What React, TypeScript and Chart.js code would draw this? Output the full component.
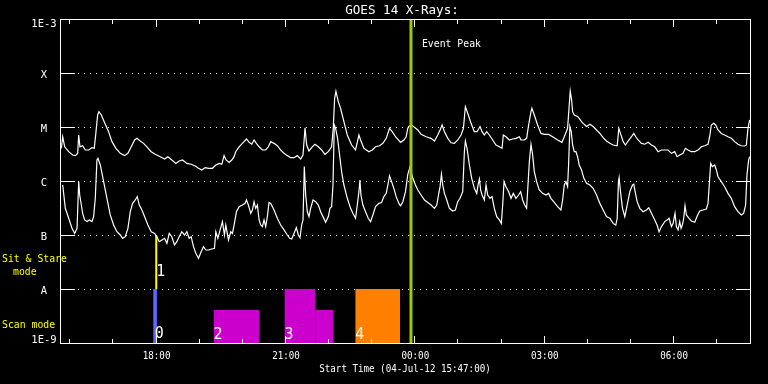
import { useEffect, useRef } from "react";
import { Chart, registerables } from "chart.js";

Chart.register(...registerables);

// ---------- DATA ----------
const TITLE = "GOES 14 X-Rays:";
const X_AXIS_TITLE = "Start Time (04-Jul-12 15:47:00)";
const X_MIN_MINUTES = 0; // 15:47 on 04-Jul-12
const X_MAX_MINUTES = 960; // 07:47 on 05-Jul-12

// GOES long channel (1-8 A), [minutes since 15:47, flux W/m^2]
const longChannel: [number, number][] = [
  [1.9, 4.03e-6], [3.75, 6.6e-6], [6.5, 4.3e-6], [12.1, 3.49e-6], [17.6, 3.03e-6], [21.3, 2.95e-6],
  [24.6, 3.25e-6], [26.0, 7.11e-6], [27.8, 4.3e-6], [31.5, 4.5e-6], [35.2, 3.75e-6], [39.9, 3.75e-6],
  [44.5, 4.15e-6], [47.7, 4.03e-6], [50.1, 8.19e-6], [52.4, 1.67e-5], [54.2, 1.92e-5], [57.5, 1.67e-5],
  [63.0, 1.12e-5], [67.6, 8.19e-6], [72.3, 5.35e-6], [77.8, 4.03e-6], [83.9, 3.25e-6], [89.9, 2.95e-6],
  [94.5, 3.25e-6], [99.1, 4.3e-6], [103.8, 5.75e-6], [107.0, 6.17e-6], [111.6, 5.5e-6], [116.3, 4.98e-6],
  [120.9, 4.3e-6], [126.9, 3.49e-6], [132.5, 3.12e-6], [139.4, 2.82e-6], [145.5, 2.56e-6], [150.1, 2.82e-6],
  [155.6, 2.45e-6], [161.2, 2.12e-6], [165.8, 2.35e-6], [170.5, 2.45e-6], [176.5, 2.12e-6], [182.5, 2.04e-6],
  [188.1, 1.9e-6], [192.7, 1.72e-6], [197.3, 1.6e-6], [202.0, 1.77e-6], [206.6, 1.72e-6], [212.1, 1.72e-6],
  [216.8, 1.98e-6], [221.4, 2.12e-6], [225.1, 2.04e-6], [228.3, 2.95e-6], [231.1, 2.45e-6], [235.3, 2.2e-6],
  [239.0, 2.45e-6], [242.2, 2.82e-6],
  [244.5, 3.49e-6], [249.2, 4.3e-6], [253.8, 4.98e-6], [259.4, 6.0e-6], [263.1, 5.2e-6], [266.8, 4.8e-6],
  [270.0, 5.75e-6], [273.2, 4.98e-6], [277.0, 4.3e-6], [281.6, 3.75e-6], [286.2, 3.75e-6], [289.9, 4.3e-6],
  [293.2, 5.35e-6], [297.8, 4.98e-6], [302.4, 4.5e-6], [307.0, 3.75e-6], [311.7, 3.25e-6], [316.3, 2.95e-6],
  [320.9, 2.7e-6], [325.6, 2.7e-6], [330.2, 2.95e-6], [334.8, 2.56e-6], [338.1, 3.03e-6], [340.9, 9.7e-6],
  [343.2, 4.64e-6], [346.4, 3.6e-6], [351.0, 4.3e-6], [354.7, 4.8e-6], [359.4, 4.3e-6], [364.0, 3.75e-6],
  [368.6, 3.12e-6], [373.3, 3.49e-6], [377.9, 4.3e-6], [380.2, 9.45e-6], [382.1, 3.4e-5], [383.9, 4.6e-5],
  [387.2, 2.94e-5], [390.4, 2.22e-5], [395.0, 1.26e-5], [399.7, 7.11e-6], [405.7, 4.64e-6], [411.2, 3.75e-6],
  [415.9, 7.11e-6], [418.2, 5.75e-6], [422.8, 4.03e-6], [429.8, 3.49e-6], [434.4, 3.75e-6], [439.0, 4.3e-6],
  [444.6, 4.5e-6], [449.2, 4.98e-6], [453.9, 6.17e-6], [458.5, 9.45e-6], [462.2, 8.19e-6], [466.8, 6.6e-6],
  [473.8, 5.2e-6], [478.4, 5.75e-6], [481.6, 6.6e-6], [483.9, 9.45e-6],
  [485.3, 1.02e-5], [488.5, 1.09e-5], [491.8, 1.02e-5], [497.8, 8.8e-6], [502.4, 7.3e-6], [509.4, 6.6e-6],
  [516.3, 6.17e-6], [521.0, 5.5e-6], [525.6, 7.11e-6], [528.8, 8.8e-6], [531.6, 1.09e-5], [534.9, 8.19e-6],
  [539.5, 6.17e-6], [544.1, 5.1e-6], [548.7, 4.98e-6], [553.4, 5.75e-6], [558.0, 7.11e-6], [561.3, 9.45e-6],
  [564.0, 2.38e-5], [567.3, 1.8e-5], [571.9, 1.17e-5], [576.5, 8.19e-6], [580.2, 8.19e-6], [584.4, 1.02e-5],
  [587.2, 8.19e-6], [590.4, 7.11e-6], [593.7, 8.19e-6], [597.4, 7.11e-6], [602.0, 5.75e-6], [606.6, 4.64e-6],
  [611.3, 4.3e-6], [615.0, 4.03e-6], [616.8, 7.11e-6], [620.5, 6.6e-6], [625.2, 5.75e-6], [629.8, 6.0e-6],
  [634.4, 6.17e-6], [639.1, 6.6e-6], [641.4, 5.75e-6], [646.0, 5.75e-6], [649.2, 6.17e-6], [652.0, 1.09e-5],
  [655.3, 1.92e-5], [656.6, 2.22e-5], [659.9, 1.67e-5], [664.5, 1.09e-5], [669.2, 7.6e-6], [673.8, 7.3e-6],
  [679.8, 7.3e-6], [685.4, 6.6e-6], [692.3, 5.75e-6], [698.3, 5.2e-6], [701.6, 6.6e-6], [706.2, 9.45e-6],
  [708.5, 2.55e-5], [709.9, 4.6e-5], [711.8, 3.17e-5], [713.2, 1.92e-5], [715.5, 1.67e-5], [720.1, 1.56e-5],
  [722.4, 1.45e-5], [725.6, 1.26e-5],
  [727.9, 1.17e-5], [732.6, 1.02e-5], [737.2, 1.12e-5], [741.8, 1.02e-5], [746.5, 8.8e-6], [751.1, 7.6e-6],
  [755.7, 6.35e-6], [760.3, 5.5e-6], [765.0, 4.98e-6], [769.6, 4.64e-6], [775.2, 4.5e-6], [777.5, 9.45e-6],
  [779.8, 7.6e-6], [783.5, 5.35e-6], [786.7, 4.64e-6], [790.4, 5.5e-6], [795.1, 6.6e-6], [798.3, 7.6e-6],
  [801.1, 6.6e-6], [804.3, 5.75e-6], [809.0, 4.98e-6], [813.6, 4.8e-6], [818.2, 5.2e-6], [822.9, 4.64e-6],
  [827.5, 4.3e-6], [832.1, 3.49e-6], [836.8, 3.75e-6], [841.4, 3.75e-6], [846.0, 3.75e-6], [850.7, 3.25e-6],
  [855.3, 3.49e-6], [858.5, 2.82e-6], [862.2, 3.03e-6], [866.9, 3.25e-6], [870.1, 4.03e-6], [873.8, 3.75e-6],
  [878.4, 3.49e-6], [883.1, 3.49e-6], [887.7, 3.75e-6], [892.3, 4.3e-6], [897.0, 4.5e-6], [901.6, 4.8e-6],
  [903.9, 6.6e-6], [906.2, 1.09e-5], [909.5, 1.17e-5], [912.2, 1.09e-5], [915.5, 8.8e-6], [920.1, 7.6e-6],
  [924.7, 7.11e-6], [929.4, 6.6e-6], [934.0, 6.17e-6], [938.6, 5.35e-6], [943.3, 4.8e-6], [947.9, 4.5e-6],
  [952.5, 4.45e-6], [954.9, 4.64e-6], [957.2, 9.45e-6], [959.5, 1.35e-5],
];

// GOES short channel (0.5-4 A), [minutes since 15:47, flux W/m^2]
const shortChannel: [number, number][] = [
  [3.75, 8.43e-7], [7.4, 3.12e-7], [12.1, 2.04e-7], [16.7, 1.33e-7], [20.4, 1.07e-7], [23.7, 1.33e-7],
  [26.0, 9.72e-7], [27.4, 5.5e-7], [29.7, 3.59e-7], [31.5, 2.52e-7], [34.3, 1.9e-7], [37.6, 1.77e-7],
  [40.8, 1.9e-7], [44.5, 1.77e-7], [46.8, 2.19e-7], [49.1, 4.78e-7], [51.4, 2.45e-6], [52.8, 2.63e-6],
  [56.1, 1.98e-6], [60.7, 9.72e-7], [65.3, 4.78e-7], [69.9, 2.35e-7], [74.6, 1.53e-7], [79.2, 1.15e-7],
  [83.9, 1.0e-7], [87.1, 8.68e-8], [90.8, 9.3e-8], [94.5, 1.33e-7], [97.8, 2.7e-7], [101.0, 3.85e-7],
  [104.7, 4.45e-7], [107.5, 5.13e-7], [110.3, 3.59e-7], [114.0, 2.9e-7], [118.6, 2.04e-7], [122.3, 1.53e-7],
  [126.9, 1.15e-7], [131.6, 1.07e-7], [134.8, 9.3e-8], [138.0, 7.52e-8], [141.8, 8.1e-8], [145.5, 8.68e-8],
  [148.7, 7.0e-8], [152.0, 1.07e-7], [155.6, 9.3e-8], [159.3, 6.53e-8], [162.6, 7.52e-8], [165.8, 9.3e-8],
  [169.5, 1.15e-7], [173.2, 1.0e-7], [176.5, 1.15e-7], [179.7, 8.68e-8], [182.5, 9.3e-8], [185.7, 6.08e-8],
  [189.0, 4.58e-8], [192.7, 3.7e-8], [196.4, 4.91e-8], [199.6, 6.08e-8], [202.9, 5.27e-8], [206.6, 5.27e-8],
  [211.2, 5.5e-8], [214.9, 5.66e-8], [216.8, 1.15e-7], [219.6, 8.68e-8], [222.8, 1.24e-7], [226.0, 1.77e-7],
  [228.8, 1.0e-7], [230.7, 1.53e-7], [234.4, 8.1e-8], [237.6, 1.15e-7], [239.9, 1.07e-7], [242.2, 1.53e-7],
  [245.5, 2.7e-7], [249.2, 3.35e-7], [253.8, 3.59e-7], [257.5, 3.85e-7], [259.4, 4.45e-7], [262.1, 3.59e-7],
  [265.4, 2.52e-7], [267.7, 2.9e-7], [270.0, 4.14e-7], [272.3, 3.12e-7], [274.6, 3.59e-7], [277.0, 1.9e-7],
  [279.3, 1.53e-7], [281.6, 1.43e-7], [283.9, 1.9e-7], [286.2, 1.43e-7], [288.5, 2.19e-7], [290.8, 4.0e-7],
  [293.2, 3.85e-7], [297.8, 2.9e-7], [302.4, 2.04e-7], [307.0, 1.53e-7], [311.7, 1.24e-7], [316.3, 1.0e-7],
  [319.6, 8.68e-8], [322.3, 8.4e-8], [325.6, 1.07e-7], [328.8, 1.37e-7], [331.6, 1.0e-7], [333.9, 8.9e-8],
  [336.2, 1.53e-7], [338.1, 1.9e-7], [339.9, 1.85e-6], [341.8, 5.5e-7], [344.1, 2.7e-7], [346.4, 2.19e-7],
  [348.7, 3.12e-7], [352.0, 4.45e-7], [355.7, 4.14e-7], [359.4, 3.59e-7], [362.6, 2.7e-7], [365.9, 2.19e-7],
  [369.6, 1.72e-7], [373.3, 2.19e-7], [375.6, 3.12e-7], [377.9, 3.35e-7], [379.8, 8.43e-7], [381.6, 1.09e-5],
  [383.5, 9.45e-6], [386.2, 6.17e-6], [389.0, 3.03e-6], [391.8, 1.49e-6], [395.0, 8.43e-7], [399.7, 4.78e-7],
  [404.3, 3.12e-7], [407.5, 2.52e-7], [411.2, 2.04e-7], [413.6, 3.59e-7], [415.9, 6.34e-7], [417.3, 1.04e-6],
  [418.7, 5.5e-7], [421.4, 3.59e-7], [425.1, 2.7e-7], [428.8, 2.04e-7], [432.1, 1.77e-7], [435.3, 2.35e-7],
  [439.0, 3.35e-7], [443.7, 3.85e-7], [447.4, 4.0e-7], [450.6, 5.13e-7], [453.9, 5.9e-7], [456.6, 9.05e-7],
  [458.5, 1.25e-6], [461.3, 9.72e-7], [464.5, 7.31e-7], [467.7, 5.13e-7], [471.5, 3.85e-7], [473.8, 3.48e-7],
  [477.0, 4.14e-7], [480.7, 6.34e-7], [483.9, 1.33e-6],
  [487.2, 1.85e-6], [488.5, 1.49e-6], [490.9, 1.12e-6], [494.6, 8.43e-7], [497.8, 6.8e-7], [502.4, 5.5e-7],
  [507.1, 4.45e-7], [511.7, 4.0e-7], [516.3, 3.59e-7], [521.0, 3.12e-7], [524.2, 3.59e-7], [527.0, 5.9e-7],
  [528.8, 7.85e-7], [530.7, 1.33e-6], [532.5, 8.43e-7], [534.9, 5.9e-7], [538.1, 4.45e-7], [541.8, 3.12e-7],
  [546.4, 2.78e-7], [550.1, 2.9e-7], [553.4, 4.14e-7], [556.6, 4.78e-7], [560.3, 6.34e-7], [562.6, 3.49e-6],
  [564.0, 5.5e-6], [566.3, 4.03e-6], [569.6, 1.98e-6], [572.8, 1.12e-6], [576.5, 7.31e-7], [579.8, 5.9e-7],
  [581.6, 8.43e-7], [583.5, 1.09e-6], [585.3, 6.8e-7], [587.2, 5.5e-7], [590.4, 4.45e-7], [592.7, 8.43e-7],
  [595.1, 5.5e-7], [598.3, 4.78e-7], [601.1, 5.13e-7], [604.3, 3.12e-7], [607.6, 2.19e-7], [611.3, 1.9e-7],
  [614.0, 1.64e-7], [615.9, 3.59e-7], [617.8, 9.72e-7], [620.5, 7.85e-7], [624.2, 6.34e-7], [627.5, 4.78e-7],
  [630.7, 5.9e-7], [634.4, 4.78e-7], [638.1, 5.5e-7], [640.9, 6.34e-7], [643.7, 4.45e-7], [646.5, 3.59e-7],
  [649.2, 3.12e-7], [651.1, 8.43e-7], [653.0, 2.28e-6], [655.3, 4.78e-6], [657.6, 3.03e-6], [659.9, 1.49e-6],
  [663.1, 9.72e-7], [666.8, 6.8e-7], [671.5, 5.9e-7], [676.1, 5.5e-7], [679.8, 5.9e-7], [683.0, 4.78e-7],
  [687.7, 4.0e-7], [692.3, 3.35e-7], [696.9, 2.9e-7], [699.3, 4.45e-7], [701.6, 8.43e-7], [703.9, 9.72e-7],
  [706.2, 7.85e-7], [707.6, 1.98e-6], [709.4, 1.02e-5], [711.3, 8.19e-6], [713.2, 4.64e-6], [715.5, 3.49e-6],
  [717.8, 3.49e-6], [720.1, 2.82e-6], [722.4, 1.98e-6], [725.6, 1.6e-6],
  [728.9, 1.12e-6], [732.6, 9.05e-7], [737.2, 8.43e-7], [741.8, 7.31e-7], [746.5, 5.5e-7], [751.1, 3.85e-7],
  [755.7, 2.9e-7], [760.3, 2.19e-7], [765.0, 2.04e-7], [769.6, 1.64e-7], [773.3, 1.53e-7], [775.2, 2.04e-7],
  [777.0, 9.72e-7], [777.9, 1.15e-6], [779.8, 6.34e-7], [782.6, 3.12e-7], [785.8, 2.19e-7], [789.1, 3.59e-7],
  [792.8, 6.34e-7], [796.5, 8.43e-7], [798.3, 8.7e-7], [800.2, 6.34e-7], [803.0, 4.14e-7], [806.7, 3.12e-7],
  [811.3, 2.7e-7], [815.9, 2.9e-7], [819.2, 3.2e-7], [822.9, 2.52e-7], [827.5, 1.9e-7], [830.7, 1.53e-7],
  [833.5, 1.15e-7], [836.8, 1.43e-7], [841.4, 1.77e-7], [844.6, 1.9e-7], [847.4, 2.04e-7], [850.7, 1.43e-7],
  [853.0, 1.64e-7], [855.7, 2.52e-7], [857.6, 1.43e-7], [859.9, 1.24e-7], [862.2, 1.77e-7], [864.1, 1.33e-7],
  [865.9, 1.53e-7], [867.8, 2.04e-7], [869.6, 3.5e-7], [871.5, 2.35e-7], [875.2, 2.04e-7], [878.4, 1.82e-7],
  [883.1, 1.72e-7], [886.3, 2.19e-7], [890.0, 2.78e-7], [894.6, 2.9e-7], [899.3, 3.03e-7], [901.6, 3.85e-7],
  [903.9, 1.12e-6], [905.3, 2.12e-6], [907.6, 1.85e-6], [910.9, 1.98e-6], [913.2, 1.6e-6], [915.5, 1.2e-6],
  [920.1, 9.72e-7], [924.7, 7.85e-7], [929.4, 5.9e-7], [934.0, 4.78e-7], [938.6, 3.35e-7], [943.3, 2.7e-7],
  [947.9, 2.35e-7], [951.1, 2.52e-7], [953.9, 3.59e-7], [955.8, 1.29e-6], [958.1, 2.45e-6], [959.5, 2.82e-6],
];

// Y axis: decade ticks and their GOES class labels
const yTickValues = [1e-9, 1e-8, 1e-7, 1e-6, 1e-5, 1e-4, 1e-3];
const yTickLabels = ["1E-9", "A", "B", "C", "M", "X", "1E-3"];
const yGridValues = [1e-8, 1e-7, 1e-6, 1e-5, 1e-4];

// X axis: hourly ticks (16:00 ... 07:00) and labelled 3-hour ticks
const hourTickMinutes = [13, 73, 133, 193, 253, 313, 373, 433, 493, 553, 613, 673, 733, 793, 853, 913];
const labelTickMinutes = [133, 313, 493, 673, 853];
const labelTickTexts = ["18:00", "21:00", "00:00", "03:00", "06:00"];

// Observing modes
const scanModeZeroMinute = 132.3; // scan 0 at 18:00
const sitStareMinute = 133.9; // sit & stare 1
const scanSegStart = [213.5, 312.2, 355.2, 410.8];
const scanSegEnd = [277.4, 355.2, 380.2, 473.3];
const scanSegTop = [4.1e-9, 1e-8, 4.1e-9, 1e-8];
const modeLabelTexts = ["0", "1", "2", "3", "4"];
const modeLabelMinutes = [131.8, 133.9, 213.5, 312.2, 410.8];
const eventPeakMinute = 488.3;
const EVENT_PEAK_TEXT = "Event Peak";

// ---------- STYLE ----------
const FONT = '"DejaVu Sans Mono", "Liberation Mono", monospace';
const WHITE = "#ffffff";
const YELLOW = "#ffff00";
const SCAN_COLORS = ["#cc00cc", "#cc00cc", "#cc00cc", "#ff8000"];
const SCAN0_COLOR = "#6464ff";
const PEAK_COLOR = "#9ccc00";
const MODE_LABEL_DY = [-5, -13, -4, -4, -4];

function drawText(
  ctx: CanvasRenderingContext2D,
  text: string,
  x: number,
  y: number,
  size: number,
  color: string,
  align: CanvasTextAlign = "left",
  sy = 1.0
) {
  ctx.save();
  ctx.font = `${size}px ${FONT}`;
  ctx.fillStyle = color;
  ctx.textAlign = align;
  ctx.textBaseline = "alphabetic";
  ctx.translate(x, y);
  ctx.scale(1, sy);
  ctx.fillText(text, 0, 0);
  ctx.restore();
}

const framePlugin = {
  id: "goesFrame",
  beforeDraw(chart: any) {
    const ctx = chart.ctx as CanvasRenderingContext2D;
    ctx.save();
    ctx.fillStyle = "#000000";
    ctx.fillRect(0, 0, chart.width, chart.height);
    ctx.restore();
  },
  beforeDatasetsDraw(chart: any) {
    const ctx = chart.ctx as CanvasRenderingContext2D;
    const { left, right } = chart.chartArea;
    const ys = chart.scales.y;
    ctx.save();
    ctx.fillStyle = WHITE;
    for (const v of yGridValues) {
      const py = Math.round(ys.getPixelForValue(v));
      for (let x = left + 18; x < right - 15; x += 6) ctx.fillRect(x, py, 1, 1);
    }
    ctx.restore();
  },
  afterDatasetsDraw(chart: any) {
    const ctx = chart.ctx as CanvasRenderingContext2D;
    const { left, right, top, bottom } = chart.chartArea;
    const xs = chart.scales.x;
    const ys = chart.scales.y;
    ctx.save();
    ctx.strokeStyle = WHITE;
    ctx.lineWidth = 1;
    ctx.beginPath();
    ctx.rect(left + 0.5, top + 0.5, right - left, bottom - top);
    // y decade ticks, inside, both sides
    for (const v of yTickValues) {
      const py = Math.round(ys.getPixelForValue(v)) + 0.5;
      ctx.moveTo(left, py);
      ctx.lineTo(left + 15, py);
      ctx.moveTo(right - 14, py);
      ctx.lineTo(right + 1, py);
    }
    // x hourly ticks, inside, top and bottom
    for (const m of hourTickMinutes) {
      const px = Math.round(xs.getPixelForValue(m)) + 0.5;
      const len = labelTickMinutes.includes(m) ? 7 : 4;
      ctx.moveTo(px, bottom);
      ctx.lineTo(px, bottom - len);
      ctx.moveTo(px, top + 1);
      ctx.lineTo(px, top + 1 + len);
    }
    ctx.stroke();
    ctx.restore();

    // y tick labels
    yTickValues.forEach((v, i) => {
      const py = ys.getPixelForValue(v);
      const base = Math.min(Math.max(py + 4.5, top + 8), bottom);
      drawText(ctx, yTickLabels[i], 44, base, 10.5, WHITE, "center");
    });
    // x tick labels
    labelTickMinutes.forEach((m, i) => {
      const px = xs.getPixelForValue(m);
      drawText(ctx, labelTickTexts[i], px + 1, bottom + 16, 9.2, WHITE, "center", 1.17);
    });
    const cx = (left + right) / 2;
    drawText(ctx, X_AXIS_TITLE, cx, bottom + 29, 9.2, WHITE, "center", 1.17);
    drawText(ctx, TITLE, cx - 3, 14, 12.6, WHITE, "center", 1.0);

    // event peak label
    const peakX = xs.getPixelForValue(eventPeakMinute);
    drawText(ctx, EVENT_PEAK_TEXT, peakX + 11, 46.5, 9.8, WHITE, "left", 1.16);

    // mode labels on the left
    drawText(ctx, "Sit & Stare", 2, 262, 9.8, YELLOW, "left", 1.14);
    drawText(ctx, "mode", 13, 274.5, 9.8, YELLOW, "left", 1.14);
    drawText(ctx, "Scan mode", 2, 327.5, 9.8, YELLOW, "left", 1.14);

    // mode numbers
    modeLabelTexts.forEach((t, i) => {
      const px = xs.getPixelForValue(modeLabelMinutes[i]);
      const py = i === 1 ? ys.getPixelForValue(1e-8) : bottom;
      drawText(ctx, t, px, py + MODE_LABEL_DY[i], 15, WHITE, "left", 1.08);
    });
  },
};

export default function App() {
  const ref = useRef<HTMLCanvasElement>(null);

  useEffect(() => {
    document.body.style.margin = "0";
    document.body.style.background = "#000";
    const canvas = ref.current;
    if (!canvas) return;

    const lineStyle = { pointRadius: 0, tension: 0, fill: false };

    const datasets: any[] = [
      {
        label: "Event Peak",
        data: [
          { x: eventPeakMinute, y: 1e-9 },
          { x: eventPeakMinute, y: 1e-3 },
        ],
        borderColor: PEAK_COLOR,
        borderWidth: 3,
        order: 0,
        ...lineStyle,
      },
      {
        label: "Long",
        data: longChannel.map(([x, y]) => ({ x, y })),
        borderColor: WHITE,
        borderWidth: 1.2,
        order: 1,
        ...lineStyle,
      },
      {
        label: "Short",
        data: shortChannel.map(([x, y]) => ({ x, y })),
        borderColor: WHITE,
        borderWidth: 1.2,
        order: 1,
        ...lineStyle,
      },
      {
        label: "Scan 0",
        data: [
          { x: scanModeZeroMinute, y: 1e-9 },
          { x: scanModeZeroMinute, y: 1e-8 },
        ],
        borderColor: SCAN0_COLOR,
        borderWidth: 3.6,
        order: 2,
        ...lineStyle,
      },
      {
        label: "Sit & Stare 1",
        data: [
          { x: sitStareMinute, y: 1e-8 },
          { x: sitStareMinute, y: 1e-7 },
        ],
        borderColor: YELLOW,
        borderWidth: 2,
        order: 2,
        ...lineStyle,
      },
      ...scanSegStart.map((s, i) => ({
        label: `Scan segment ${i}`,
        data: [
          { x: s, y: scanSegTop[i] },
          { x: scanSegEnd[i], y: scanSegTop[i] },
        ],
        borderWidth: 0,
        borderColor: SCAN_COLORS[i],
        backgroundColor: SCAN_COLORS[i],
        fill: "start",
        pointRadius: 0,
        tension: 0,
        order: 3,
      })),
    ];

    const chart = new Chart(canvas, {
      type: "line",
      data: { datasets },
      options: {
        responsive: false,
        animation: false,
        devicePixelRatio: 1,
        layout: { padding: { left: 60, top: 19, right: 18, bottom: 41 } },
        scales: {
          x: { type: "linear", min: X_MIN_MINUTES, max: X_MAX_MINUTES, display: false },
          y: { type: "logarithmic", min: 1e-9, max: 1e-3, display: false },
        },
        plugins: {
          legend: { display: false },
          tooltip: { enabled: false },
          title: { display: false },
        },
        events: [],
      },
      plugins: [framePlugin],
    });

    return () => chart.destroy();
  }, []);

  return (
    <canvas
      ref={ref}
      width={768}
      height={384}
      style={{ display: "block", width: 768, height: 384, position: "absolute", left: 0, top: 0 }}
    />
  );
}
